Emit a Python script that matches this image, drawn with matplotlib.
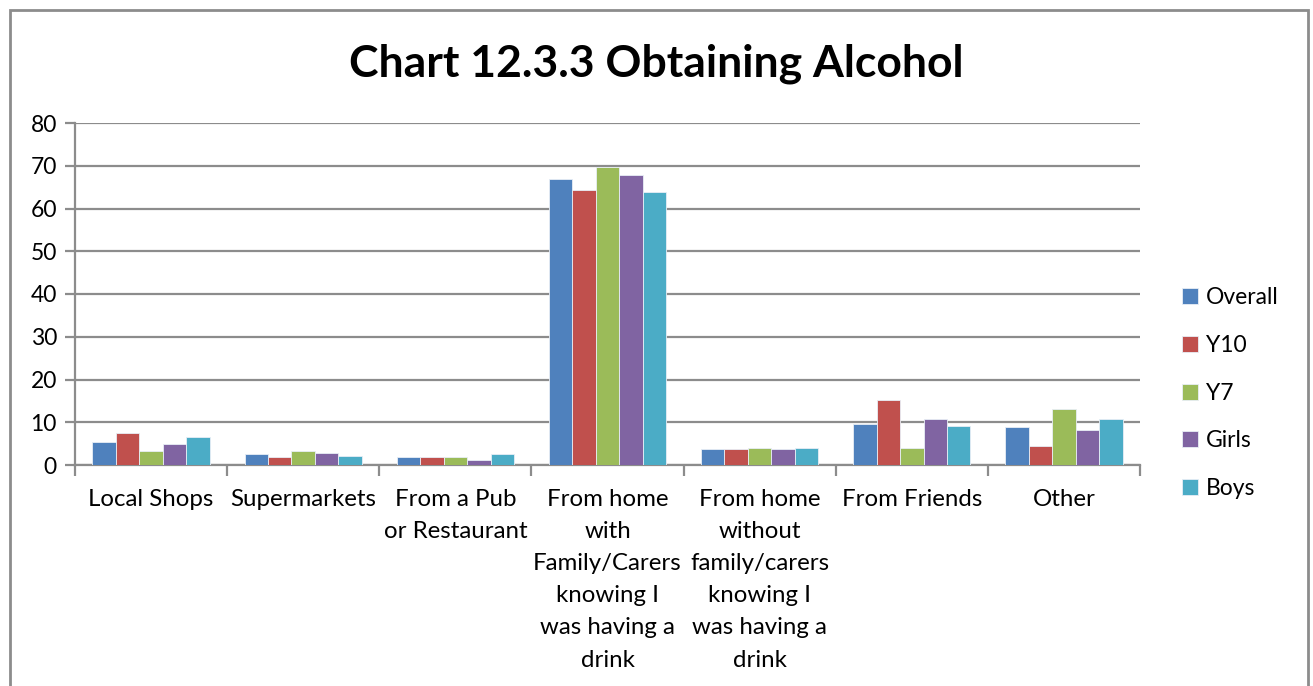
import matplotlib.pyplot as plt
import numpy as np
from matplotlib.patches import Rectangle

plt.rcParams['font.family'] = ['Lato', 'DejaVu Sans']

# Where pupils get their alcohol, percent of respondents
categories = ["Local Shops", "Supermarkets", "From a Pub\nor Restaurant",
              "From home\nwith\nFamily/Carers\nknowing I\nwas having a\ndrink",
              "From home\nwithout\nfamily/carers\nknowing I\nwas having a\ndrink",
              "From Friends", "Other"]
series_names = ["Overall", "Y10", "Y7", "Girls", "Boys"]
overall = [5.3, 2.5, 1.9, 67.0, 3.8, 9.7, 8.8]
y10 = [7.4, 1.8, 1.9, 64.4, 3.8, 15.3, 4.4]
y7 = [3.2, 3.2, 1.9, 69.7, 3.9, 3.9, 13.2]
girls = [4.9, 2.8, 1.1, 67.9, 3.7, 10.7, 8.1]
boys = [6.5, 2.1, 2.6, 63.8, 4.0, 9.2, 10.7]
series = [overall, y10, y7, girls, boys]
colors = ["#4F81BD", "#C0504D", "#9BBB59", "#8064A2", "#4BACC6"]

fig = plt.figure(figsize=(13.13, 6.86), dpi=100)
ax = fig.add_axes([75 / 1313, 1 - 465 / 686, 1065 / 1313, 342 / 686])

x = np.arange(len(categories))
w = 0.154
for i, (vals, name, c) in enumerate(zip(series, series_names, colors)):
    ax.bar(x + (i - 2) * w, vals, w, color=c, label=name,
           edgecolor="#e8eef6", linewidth=0.6, zorder=3)

ax.set_xlim(-0.5, len(categories) - 0.5)
ax.set_ylim(0, 80)
ax.set_yticks(range(0, 81, 10))
ax.yaxis.grid(True, color="#8c8c8c", linewidth=1.6, zorder=0)
ax.set_axisbelow(True)
for s in ["top", "right"]:
    ax.spines[s].set_visible(False)
for s in ["left", "bottom"]:
    ax.spines[s].set_color("#8c8c8c")
    ax.spines[s].set_linewidth(1.6)

# category boundaries carry the tick marks, labels sit in the middle
ax.set_xticks(np.arange(-0.5, len(categories), 1))
ax.set_xticklabels([])
ax.set_xticks(x, minor=True)
ax.set_xticklabels(categories, minor=True, fontsize=17.3, linespacing=1.66,
                   va="top")
ax.tick_params(axis="x", which="major", length=8, width=1.6, color="#8c8c8c")
ax.tick_params(axis="x", which="minor", length=0, pad=17)
ax.tick_params(axis="y", length=7, width=1.6, color="#8c8c8c", labelsize=16.5,
               pad=6)

fig.text(0.5, 1 - 64 / 686, "Chart 12.3.3 Obtaining Alcohol", ha="center",
         va="center", fontsize=32, fontweight="bold")

leg = ax.legend(loc="center left", bbox_to_anchor=(1.02, 0.21), frameon=False,
                fontsize=16.5, handlelength=0.7, handleheight=0.7,
                labelspacing=1.17, handletextpad=0.35)

# outer chart border
fig.patches.append(Rectangle((10 / 1313, -0.05), 1298 / 1313, 1.05 - 10 / 686,
                             transform=fig.transFigure, fill=False,
                             edgecolor="#8c8c8c", linewidth=2))

fig.savefig("out.png", dpi=100)
